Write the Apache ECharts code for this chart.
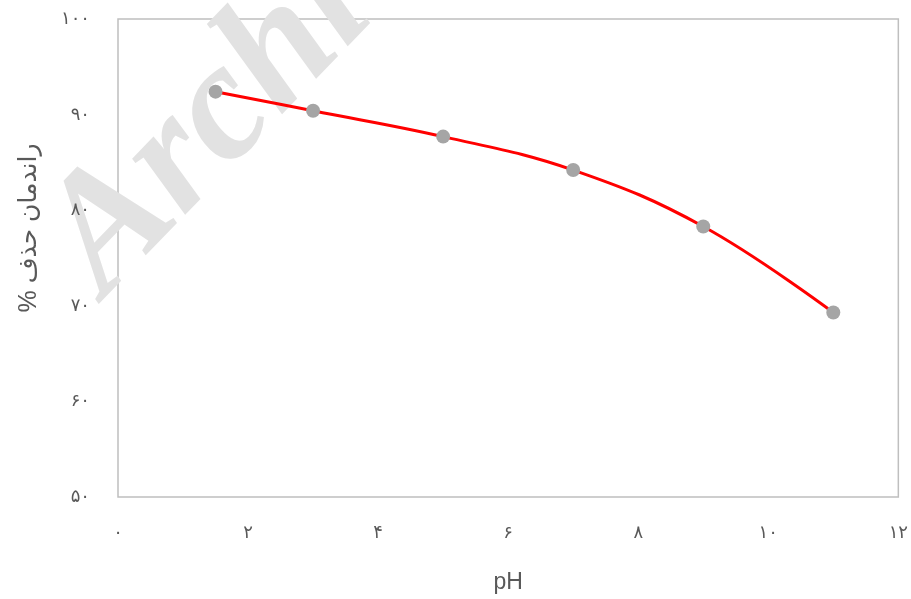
<!DOCTYPE html>
<html>
<head>
<meta charset="utf-8">
<script src="https://cdn.jsdelivr.net/npm/echarts@6/dist/echarts.min.js"></script>
<style>
html,body{margin:0;padding:0;background:#fff;}
#chart{width:911px;height:599px;}
</style>
</head>
<body>
<div id="chart"></div>
<script>
var phValues = [1.5, 3, 5, 7, 9, 11];
var removalValues = [92.4, 90.4, 87.7, 84.2, 78.3, 69.3];
var xTickLabels = {0:'۰', 2:'۲', 4:'۴', 6:'۶', 8:'۸', 10:'۱۰', 12:'۱۲'};
var yTickLabels = {50:'۵۰', 60:'۶۰', 70:'۷۰', 80:'۸۰', 90:'۹۰', 100:'۱۰۰'};
var xAxisTitle = 'pH';
var yAxisTitle = '% راندمان حذف';
var watermarkText = 'Archive';

var chart = echarts.init(document.getElementById('chart'));
var fontFam = '"Liberation Sans", "DejaVu Sans", sans-serif';
chart.setOption({
  animation: false,
  backgroundColor: '#fff',
  graphic: [{
    type: 'text',
    z: 0,
    x: 134,
    y: 326,
    rotation: 46 * Math.PI / 180,
    style: {
      text: watermarkText,
      font: 'bold italic 168px "Liberation Serif", serif',
      fill: '#e2e2e2',
      textAlign: 'left',
      textVerticalAlign: 'bottom'
    }
  }],
  grid: {left: 118, right: 8, top: 19, bottom: 102, show: true, borderColor: '#bfbfbf', borderWidth: 1.5, backgroundColor: 'transparent'},
  xAxis: {
    type: 'value', min: 0, max: 12, interval: 2,
    name: xAxisTitle, nameLocation: 'middle', nameGap: 74,
    nameTextStyle: {color: '#595959', fontSize: 23, fontFamily: fontFam},
    axisLine: {show: false}, axisTick: {show: false}, splitLine: {show: false},
    axisLabel: {color: '#595959', fontSize: 18, margin: 27, fontFamily: fontFam,
      formatter: function (v) { return xTickLabels[v] !== undefined ? xTickLabels[v] : ''; }}
  },
  yAxis: {
    type: 'value', min: 50, max: 100, interval: 10,
    name: yAxisTitle, nameLocation: 'middle', nameGap: 76, nameRotate: 90,
    nameTextStyle: {color: '#595959', fontSize: 25, fontFamily: fontFam, padding: [0, 0, 0, 60]},
    axisLine: {show: false}, axisTick: {show: false}, splitLine: {show: false},
    axisLabel: {color: '#595959', fontSize: 18, margin: 28, fontFamily: fontFam,
      formatter: function (v) { return yTickLabels[v] !== undefined ? yTickLabels[v] : ''; }}
  },
  series: [{
    type: 'line',
    data: phValues.map(function (x, i) { return [x, removalValues[i]]; }),
    smooth: 0.4,
    z: 5,
    lineStyle: {color: '#ff0000', width: 3},
    symbol: 'circle',
    symbolSize: 14,
    itemStyle: {color: '#a5a5a5', borderWidth: 0}
  }]
});
</script>
</body>
</html>
